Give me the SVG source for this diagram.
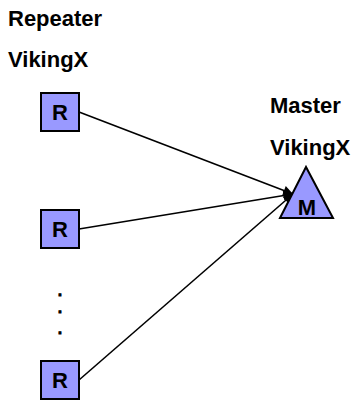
<svg xmlns="http://www.w3.org/2000/svg" width="356" height="403" viewBox="0 0 356 403">
  <style>
    text { font-family: "Liberation Sans", Arial, sans-serif; font-weight: bold; font-size: 22px; fill: #000; }
    .node { fill: #9999FF; stroke: #000; stroke-width: 2; }
    .mid { text-anchor: middle; }
    .dot { font-size: 14px; stroke: #000; stroke-width: 1; }
    .link { stroke: #000; stroke-width: 1.6; fill: none; marker-end: url(#head); }
  </style>
  <defs>
    <marker id="head" viewBox="0 0 10 10" refX="10" refY="5" markerWidth="7" markerHeight="6" markerUnits="strokeWidth" orient="auto">
      <path d="M0,0 L10,5 L0,10 z" fill="#000"/>
    </marker>
  </defs>
  <rect width="356" height="403" fill="#fff"/>

  <!-- captions -->
  <text x="8" y="26">Repeater</text>
  <text x="8" y="67">VikingX</text>
  <text x="270" y="113">Master</text>
  <text x="270" y="155">VikingX</text>

  <!-- connectors -->
  <g id="links">
    <line class="link" x1="79" y1="112" x2="293" y2="194"/>
    <line class="link" x1="79" y1="229" x2="293" y2="194"/>
    <line class="link" x1="79" y1="380" x2="293" y2="194"/>
  </g>

  <!-- repeater nodes -->
  <g id="repeater1">
    <rect class="node" x="41" y="93" width="38" height="38"/>
    <text class="mid" x="60" y="120">R</text>
  </g>
  <g id="repeater2">
    <rect class="node" x="41" y="210" width="38" height="38"/>
    <text class="mid" x="60" y="237">R</text>
  </g>
  <g id="repeater3">
    <rect class="node" x="41" y="361" width="38" height="38"/>
    <text class="mid" x="60" y="388">R</text>
  </g>

  <!-- ellipsis between repeaters -->
  <g id="ellipsis">
    <text class="mid dot" x="60" y="296">.</text>
    <text class="mid dot" x="60" y="313">.</text>
    <text class="mid dot" x="60" y="334">.</text>
  </g>

  <!-- master node -->
  <g id="master">
    <polygon class="node" points="306,167 280,218 333,218"/>
    <text class="mid" x="307" y="215">M</text>
  </g>
</svg>
